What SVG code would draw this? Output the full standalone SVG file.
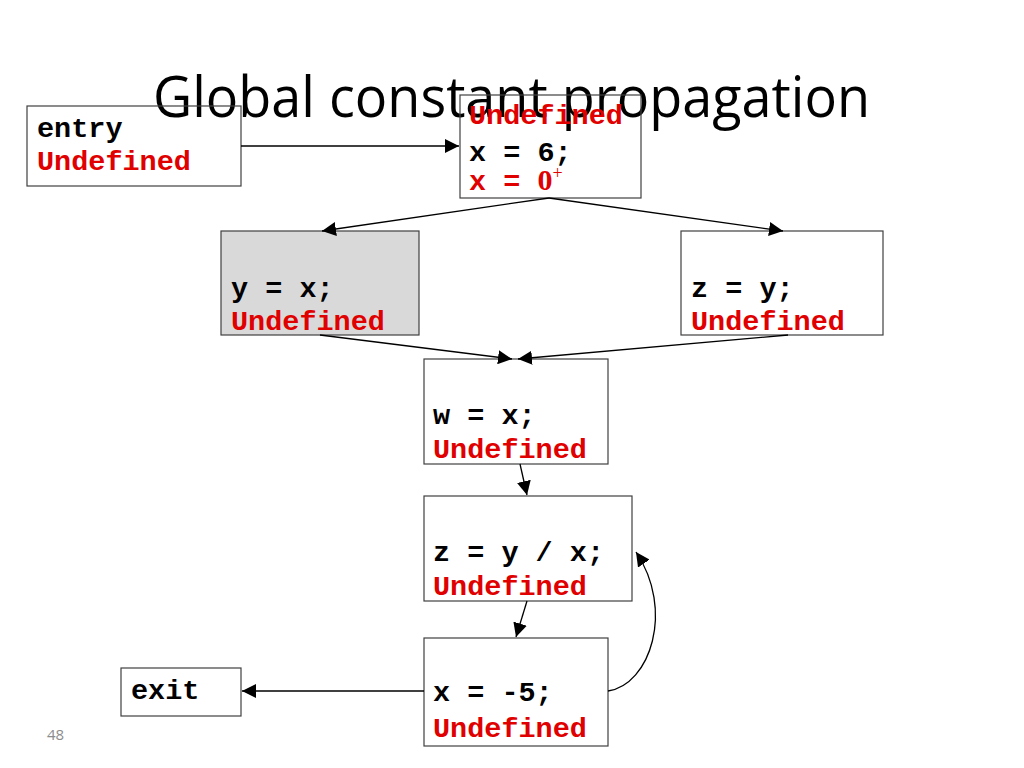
<svg xmlns="http://www.w3.org/2000/svg" width="1024" height="768" viewBox="0 0 1024 768">
<defs>
<marker id="ah" viewBox="0 0 10 10" refX="10" refY="5" markerWidth="14" markerHeight="14" markerUnits="userSpaceOnUse" orient="auto">
<path d="M0,0 L10,5 L0,10 z" fill="#000"/>
</marker>
<style>
.box{fill:none;stroke:#404040;stroke-width:1.2}
.grey{fill:#d9d9d9}
.c{font-family:"Liberation Mono","Courier New",monospace;font-weight:bold;font-size:28.5px;fill:#000}
.r{fill:#e00000}
.e{fill:none;stroke:#000;stroke-width:1.3;marker-end:url(#ah)}
</style>
</defs>
<rect width="1024" height="768" fill="#fff"/>
<text x="153" y="117" font-family="'Open Sans','Liberation Sans',sans-serif" font-size="56" textLength="717" lengthAdjust="spacingAndGlyphs" fill="#000">Global constant propagation</text>
<g id="entry">
<rect class="box" x="27" y="106" width="214" height="80"/>
<text class="c" x="37" y="137">entry</text>
<text class="c r" x="37" y="170">Undefined</text>
</g>
<g id="n1">
<rect class="box" x="460" y="95" width="181" height="103"/>
<text class="c r" x="469" y="124">Undefined</text>
<text class="c" x="469" y="161">x = 6;</text>
<text class="c r" x="469" y="190">x = <tspan font-family="'Liberation Serif','Times New Roman',serif" font-size="30">0</tspan><tspan font-family="'Liberation Serif','Times New Roman',serif" font-weight="normal" font-size="18" dy="-11">+</tspan></text>
</g>
<g id="n2">
<rect class="box grey" x="221" y="231" width="198" height="104"/>
<text class="c" x="231" y="297">y = x;</text>
<text class="c r" x="231" y="330">Undefined</text>
</g>
<g id="n3">
<rect class="box" x="681" y="231" width="202" height="104"/>
<text class="c" x="691" y="297">z = y;</text>
<text class="c r" x="691" y="330">Undefined</text>
</g>
<g id="n4">
<rect class="box" x="424" y="359" width="184" height="105"/>
<text class="c" x="433" y="424">w = x;</text>
<text class="c r" x="433" y="458">Undefined</text>
</g>
<g id="n5">
<rect class="box" x="424" y="496" width="208" height="105"/>
<text class="c" x="433" y="561">z = y / x;</text>
<text class="c r" x="433" y="595">Undefined</text>
</g>
<g id="n6">
<rect class="box" x="424" y="638" width="184" height="108"/>
<text class="c" x="433" y="701">x = -5;</text>
<text class="c r" x="433" y="737">Undefined</text>
</g>
<g id="exit">
<rect class="box" x="121" y="668" width="120" height="48"/>
<text class="c" x="131" y="699">exit</text>
</g>
<text x="47" y="740" font-family="'Open Sans','Liberation Sans',sans-serif" font-size="15" fill="#8c8c8c">48</text>
<g id="connectors">
<line class="e" x1="241" y1="146" x2="459" y2="146"/>
<line class="e" x1="549" y1="198" x2="322" y2="231"/>
<line class="e" x1="549" y1="198" x2="783" y2="231"/>
<line class="e" x1="320" y1="335" x2="512" y2="359"/>
<line class="e" x1="788" y1="335" x2="518" y2="359"/>
<line class="e" x1="520" y1="464" x2="527" y2="495"/>
<line class="e" x1="527" y1="601" x2="516" y2="637"/>
<line class="e" x1="424" y1="691" x2="242" y2="691"/>
<path class="e" d="M608,691 C650,685 675,610 636,552"/>
</g>
</svg>
